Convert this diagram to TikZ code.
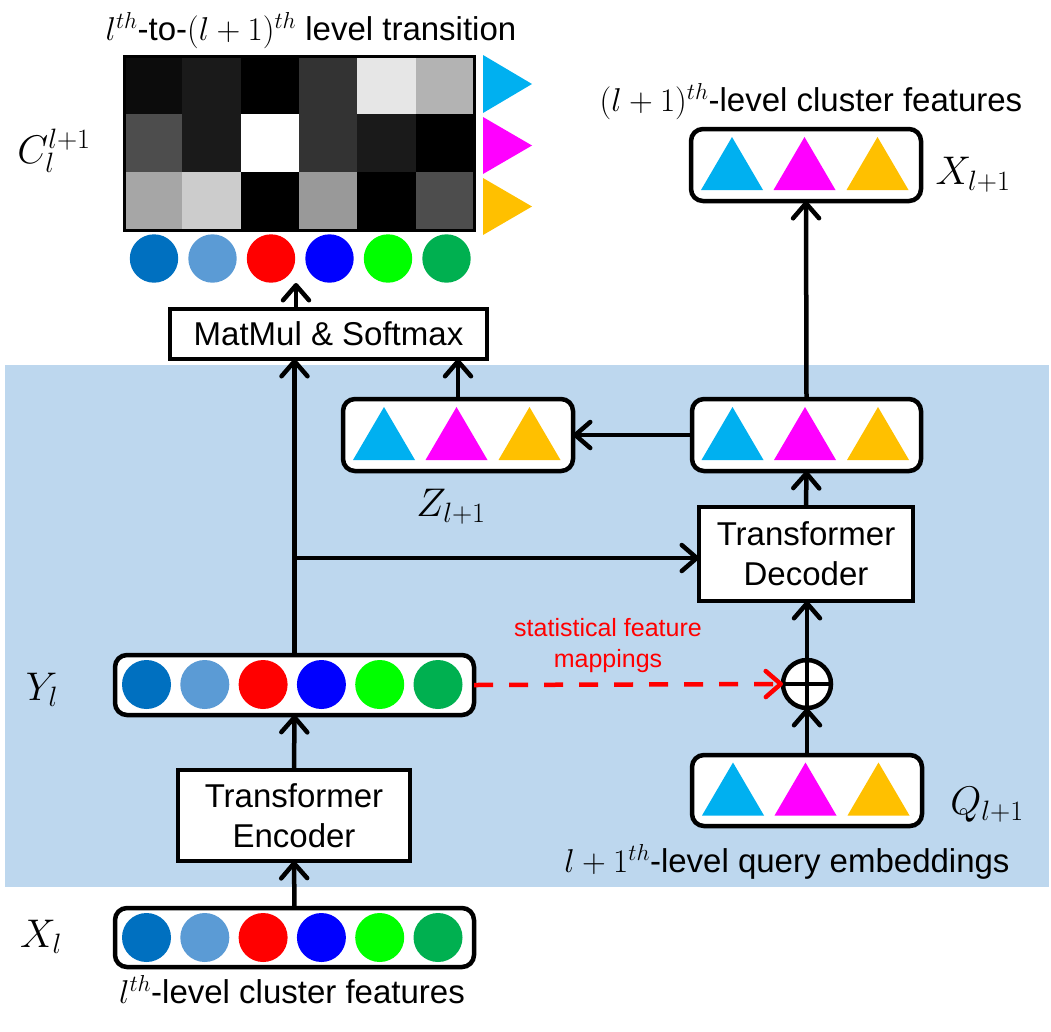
\RequirePackage{fix-cm}
\documentclass[tikz,border=0pt]{standalone}
\usepackage{fontspec}
\setmainfont{Liberation Sans}
\usetikzlibrary{arrows.meta}
\definecolor{bgblue}{HTML}{BDD7EE}
\definecolor{tcyan}{HTML}{00B0F0}
\definecolor{tmag}{HTML}{FF00FF}
\definecolor{tyel}{HTML}{FFC000}
\definecolor{ca}{HTML}{0070C0}
\definecolor{cb}{HTML}{5B9BD5}
\definecolor{cc}{HTML}{FF0000}
\definecolor{cd}{HTML}{0000FF}
\definecolor{ce}{HTML}{00FF00}
\definecolor{cf}{HTML}{00B050}
\begin{document}
\begin{tikzpicture}[x=1pt,y=-1pt,
  txt/.style={font=\fontsize{33}{40}\selectfont, inner sep=0pt},
  lab/.style={font=\fontsize{40}{48}\selectfont, inner sep=0pt},
  rbox/.style={draw, line width=4.5pt, rounded corners=12pt, fill=white, inner sep=0pt, outer sep=0pt},
  sbox/.style={draw, line width=4.5pt, fill=white, inner sep=0pt, outer sep=0pt, align=center, font=\fontsize{33}{40}\selectfont},
  arr/.style={line width=4.5pt, -{Straight Barb[length=15pt,width=26pt,round]}},
]
\useasboundingbox (0,0) rectangle (1051,1031);
\fill[bgblue] (5,365) rectangle (1049,887);

% transition matrix
\foreach \g [count=\i from 0] in {12,26,0,51,230,179,77,26,255,51,26,0,166,204,0,153,0,77} {
  \pgfmathtruncatemacro\cci{mod(\i,6)}
  \pgfmathtruncatemacro\rri{div(\i,6)}
  \definecolor{cellc}{RGB}{\g,\g,\g}
  \fill[cellc] (124+58.33*\cci, 56+58*\rri) rectangle ++(58.5,58.2);
}
\draw[line width=3pt] (124,56) rectangle (474,230);
\fill[tcyan] (483,55) -- (532,84) -- (483,113) -- cycle;
\fill[tmag] (483,117) -- (532,145.5) -- (483,174) -- cycle;
\fill[tyel] (483,178) -- (532,206.5) -- (483,235) -- cycle;
\foreach \c [count=\i from 0] in {ca,cb,cc,cd,ce,cf}
  \fill[\c] (154+58.5*\i, 258.5) circle (24.2);

% boxes
\node[rbox, minimum width=230pt, minimum height=72pt] (Xn) at (806,165) {};
\node[rbox, minimum width=229pt, minimum height=72pt] (D) at (806.5,435) {};
\node[rbox, minimum width=230pt, minimum height=72pt] (Z) at (458,435) {};
\node[rbox, minimum width=230pt, minimum height=71pt] (Q) at (807,790.5) {};
\node[rbox, minimum width=359pt, minimum height=60pt] (Yb) at (294.5,685) {};
\node[rbox, minimum width=359pt, minimum height=59pt] (Xb) at (294.5,937.5) {};
\node[sbox, minimum width=317pt, minimum height=50pt] (MM) at (328.5,334) {MatMul \& Softmax};
\node[sbox, minimum width=232pt, minimum height=91pt] (Enc) at (294,815.5) {Transformer\\Encoder};
\node[sbox, minimum width=214pt, minimum height=94pt] (Dec) at (806,554) {Transformer\\Decoder};
\node[draw, circle, line width=4.5pt, fill=white, minimum size=48pt, inner sep=0pt, outer sep=0pt] (op) at (807,684) {};
\draw[line width=4.5pt] (op.north) -- (op.south) (op.west) -- (op.east);

% triangles inside boxes
\foreach \b in {Xn,D,Z,Q} {
  \foreach \dx/\c in {-74/tcyan,-1.5/tmag,71.5/tyel} {
    \fill[\c] ([shift={(\dx-31,25)}]\b.center) -- ([shift={(\dx,-28)}]\b.center) -- ([shift={(\dx+31,25)}]\b.center) -- cycle;
  }
}
% circles inside boxes
\foreach \c [count=\i from 0] in {ca,cb,cc,cd,ce,cf} {
  \fill[\c] (146.5+58.3*\i, 684.5) circle (24.5);
  \fill[\c] (146.5+58.3*\i, 937.5) circle (24.5);
}

% labels
\node[txt] (t1) at (311,31) {$l^{th}$-to-$(l+1)^{th}$ level transition};
\node[lab] (Clab) at (54,151) {$C_l^{l+1}$};
\node[txt] (t2) at (811,102) {$(l+1)^{th}$-level cluster features};
\node[lab] (Xnlab) at (973,175) {$X_{l+1}$};
\node[lab] (Zlab) at (451,507) {$Z_{l+1}$};
\node[lab] (Ylab) at (42,690) {$Y_l$};
\node[lab] (Xlab) at (41,937) {$X_l$};
\node[lab] (Qlab) at (987,805) {$Q_{l+1}$};
\node[txt] (t3) at (292,990) {$l^{th}$-level cluster features};
\node[txt] (t4) at (787,862) {$l+1^{th}$-level query embeddings};
\node[font=\fontsize{25}{31}\selectfont, text=red, align=center, inner sep=0pt] (redt) at (608,646) {statistical feature\\mappings};

% connectors
\coordinate (cbot) at (296,283);
\coordinate (J) at (294.5,558);
\draw[arr] (Xb.north) -- (Enc.south);
\draw[arr] (Enc.north) -- (Yb.north |- Yb.south);
\draw[arr] (Yb.north) -- (Yb.north |- MM.south);
\draw[arr] (J) -- (J -| Dec.west);
\draw[arr] (Z.north) -- (Z.north |- MM.south);
\draw[arr] (MM.north -| cbot) -- (cbot);
\draw[arr] (D.west) -- (Z.east);
\draw[arr] (D.north) -- (Xn.south);
\draw[arr] (Dec.north) -- (D.south);
\draw[arr] (op.north) -- (op.north |- Dec.south);
\draw[arr] (Q.north) -- (op.south);
\draw[arr, red, dash pattern=on 19pt off 16pt] (Yb.east) -- (op.west);
\end{tikzpicture}
\end{document}
